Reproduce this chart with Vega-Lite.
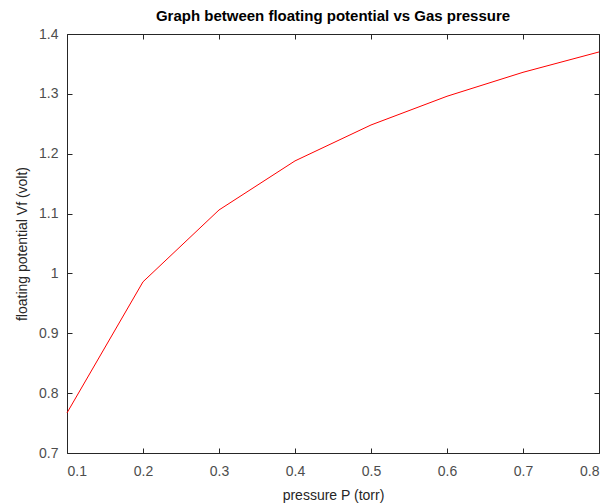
{
  "$schema": "https://vega.github.io/schema/vega-lite/v6.json",
  "width": 532,
  "height": 419,
  "autosize": {"type": "none"},
  "padding": {"left": 67, "top": 34, "right": 12, "bottom": 51},
  "background": "white",
  "title": {"text": "Graph between floating potential vs Gas pressure", "font": "Liberation Sans", "fontSize": 15, "fontWeight": "bold", "color": "#000000", "offset": 3, "anchor": "middle"},
  "config": {
    "view": {"stroke": "#262626", "strokeWidth": 1},
    "axis": {"labelFont": "Liberation Sans", "titleFont": "Liberation Sans", "labelFontSize": 14, "titleFontSize": 14, "titleFontWeight": "normal", "labelColor": "#4d4d4d", "titleColor": "#262626", "grid": false, "domain": false}
  },
  "data": {"values": [
    {"p": 0.1, "v": 0.767},
    {"p": 0.2, "v": 0.986},
    {"p": 0.3, "v": 1.106},
    {"p": 0.4, "v": 1.188},
    {"p": 0.5, "v": 1.248},
    {"p": 0.6, "v": 1.296},
    {"p": 0.7, "v": 1.336},
    {"p": 0.8, "v": 1.37}
  ]},
  "layer": [
    {
      "mark": {"type": "line", "color": "#ff0000", "strokeWidth": 1},
      "encoding": {
        "x": {"field": "p", "type": "quantitative", "scale": {"domain": [0.1, 0.8], "nice": false, "zero": false}, "axis": {"orient": "bottom", "title": "pressure P (torr)", "values": [0.1,0.2,0.3,0.4,0.5,0.6,0.7,0.8], "format": ".1f", "ticks": true, "tickSize": 5, "tickColor": "#262626", "tickWidth": 1, "offset": -5, "labelPadding": 11, "titleY": 40}},
        "y": {"field": "v", "type": "quantitative", "scale": {"domain": [0.7, 1.4], "nice": false, "zero": false}, "axis": {"orient": "left", "title": "floating potential Vf (volt)", "values": [0.7,0.8,0.9,1,1.1,1.2,1.3,1.4], "format": "~g", "ticks": true, "tickSize": 5, "tickColor": "#262626", "tickWidth": 1, "offset": -5, "labelPadding": 9, "titleX": -43}}
      }
    },
    {
      "mark": {"type": "line", "opacity": 0},
      "encoding": {
        "x": {"field": "p", "type": "quantitative", "scale": {"domain": [0.1, 0.8], "nice": false, "zero": false}, "axis": {"orient": "top", "title": null, "labels": false, "ticks": true, "tickSize": 5, "tickColor": "#262626", "tickWidth": 1, "offset": -5, "values": [0.1,0.2,0.3,0.4,0.5,0.6,0.7,0.8]}},
        "y": {"field": "v", "type": "quantitative", "scale": {"domain": [0.7, 1.4], "nice": false, "zero": false}, "axis": {"orient": "right", "title": null, "labels": false, "ticks": true, "tickSize": 5, "tickColor": "#262626", "tickWidth": 1, "offset": -5, "values": [0.7,0.8,0.9,1,1.1,1.2,1.3,1.4]}}
      }
    }
  ],
  "resolve": {"scale": {"x": "independent", "y": "independent"}, "axis": {"x": "independent", "y": "independent"}}
}
